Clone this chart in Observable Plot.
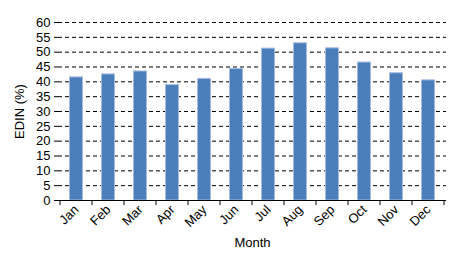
<!DOCTYPE html>
<html><head><meta charset="utf-8">
<script src="https://cdn.jsdelivr.net/npm/d3@7"></script>
<script src="https://cdn.jsdelivr.net/npm/@observablehq/plot@0.6"></script>
<style>body{margin:0;background:#fff} #chart svg text{font-size:13px;font-family:"Liberation Sans",Arial,sans-serif}</style>
</head><body><div id="chart"></div>
<script>
const months = ["Jan","Feb","Mar","Apr","May","Jun","Jul","Aug","Sep","Oct","Nov","Dec"];
const edin = [41.5, 42.5, 43.5, 38.9, 41.0, 44.3, 51.2, 53.0, 51.3, 46.5, 42.9, 40.5];
const yTicks = [0,5,10,15,20,25,30,35,40,45,50,55,60];
const data = months.map((m, i) => ({month: m, value: edin[i]}));

const chart = Plot.plot({
  width: 459, height: 256,
  marginLeft: 58, marginRight: 13, marginTop: 22, marginBottom: 56,
  style: {fontFamily: "Liberation Sans, Arial, sans-serif", fontSize: "13px", color: "#000", background: "#fff"},
  x: {domain: months, paddingInner: 0.57, paddingOuter: 0.285, align: 0.5},
  y: {domain: [0, 60]},
  marks: [
    Plot.ruleY(yTicks.filter(d => d > 0), {y: d => d, stroke: "#000", strokeDasharray: "4,3", strokeWidth: 1}),
    Plot.barY(data, {x: "month", y: "value", fill: "#4a7ebb", stroke: "#a7bde0", strokeWidth: 1, insetLeft: 0.5, insetRight: 0.5}),
    Plot.axisY({ticks: yTicks, tickSize: 4, tickPadding: 4, label: "EDIN (%)", labelAnchor: "center", labelArrow: "none", labelOffset: 44}),
    Plot.axisX({tickSize: 0, tickRotate: -45, tickPadding: 7, label: "Month", labelAnchor: "center", labelArrow: "none", labelOffset: 46}),
    Plot.ruleY([0], {stroke: "#000"}),
    Plot.ruleX([0], {frameAnchor: "left", stroke: "#000"})
  ]
});
// tick marks at the category boundaries, placed with the plot's own scales
const sx = chart.scale("x"), sy = chart.scale("y");
const y0 = sy.apply(0);
const step = sx.apply(months[1]) - sx.apply(months[0]);
const bw = sx.bandwidth != null ? sx.bandwidth : step * (1 - 0.57);
const gap = (step - bw) / 2;
const edges = months.map(m => sx.apply(m) - gap).concat([sx.apply(months[months.length - 1]) + bw + gap]);
const svg = chart.tagName.toLowerCase() === "svg" ? chart : chart.querySelector("svg");
const g = d3.select(svg).append("g").attr("stroke", "#000").attr("stroke-width", 1);
for (const e of edges) g.append("line").attr("x1", e).attr("x2", e).attr("y1", y0).attr("y2", y0 + 5);
document.getElementById("chart").appendChild(chart);
</script></body></html>
